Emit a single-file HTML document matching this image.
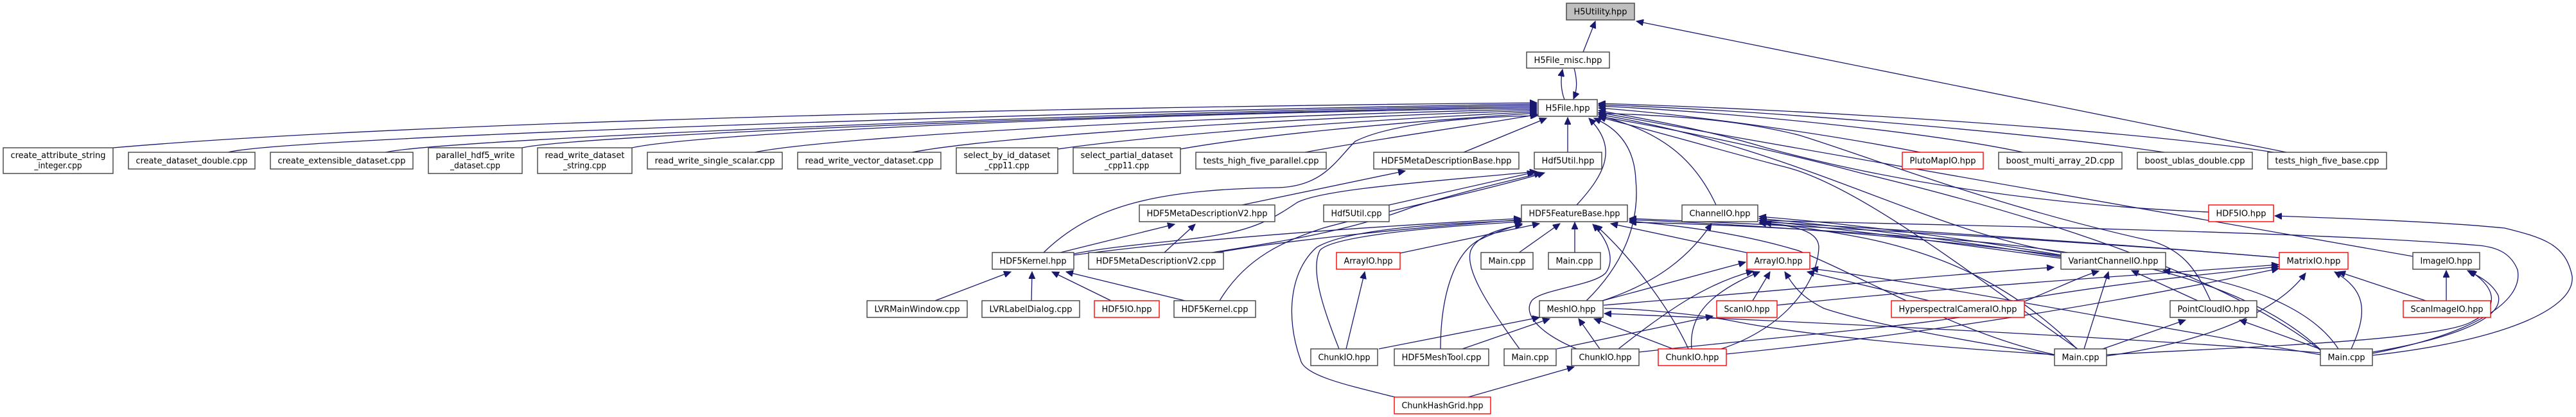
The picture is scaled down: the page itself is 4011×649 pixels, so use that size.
<!DOCTYPE html>
<html><head><meta charset="utf-8"><style>
html,body{margin:0;padding:0;background:#fff;}
svg{display:block;}
text{font-family:"DejaVu Sans Condensed","DejaVu Sans","Liberation Sans",sans-serif;font-size:13.5px;fill:#000;}
.n{fill:#fff;stroke:#404040;stroke-width:1.4;}
.r{fill:#fff;stroke:#ff0000;stroke-width:1.4;}
.g{fill:#bfbfbf;stroke:#404040;stroke-width:1.4;}
.e{fill:none;stroke:#191970;stroke-width:1.3;marker-end:url(#a);}
</style></head><body>
<svg width="4011" height="649" viewBox="0 0 4011 649" xmlns="http://www.w3.org/2000/svg">
<defs><marker id="a" markerUnits="userSpaceOnUse" markerWidth="12" markerHeight="10" refX="11" refY="5" orient="auto"><path d="M0,0 L11,5 L0,10 z" fill="#191970" stroke="#191970"/></marker></defs>
<g>
<!-- top edges -->
<path class="e" d="M2465,81 L2484,33"/>
<path class="e" d="M3560,237 L2548,33"/>
<path class="e" d="M2436,155 C2430,140 2430,122 2433,108"/>
<path class="e" d="M2451,106 C2456,125 2456,140 2450,154"/>
<!-- row3 left to H5File -->
<path class="e" d="M176,230 C700,185 1800,165 2393,160"/>
<path class="e" d="M355,237 C450,212 1800,170 2393,162"/>
<path class="e" d="M600,237 C700,215 1800,172 2393,164"/>
<path class="e" d="M813,230 C900,210 1800,175 2393,166"/>
<path class="e" d="M984,230 C1100,205 1800,176 2393,168"/>
<path class="e" d="M1175,237 C1300,212 1900,180 2393,170"/>
<path class="e" d="M1420,237 C1550,212 2000,184 2393,172"/>
<path class="e" d="M1647,232 C1800,210 2100,188 2393,174"/>
<path class="e" d="M1838,232 C1950,212 2150,192 2393,176"/>
<path class="e" d="M2032,237 C2150,215 2300,195 2394,178"/>
<path class="e" d="M2279,237 L2408,184"/>
<path class="e" d="M1625,393 C1700,320 1800,295 1990,292 C2060,290 2080,250 2110,220 C2170,190 2300,182 2394,180"/>
<path class="e" d="M2441,237 L2441,183"/>
<path class="e" d="M2455,319 C2500,270 2520,230 2474,184"/>
<path class="e" d="M2470,468 C2540,400 2552,330 2547,280 C2545,230 2520,200 2482,184"/>
<path class="e" d="M2672,319 C2640,250 2590,205 2490,180"/>
<!-- right row3 to H5File -->
<path class="e" d="M2990,237 C2850,210 2650,180 2489,168"/>
<path class="e" d="M3150,237 C3000,205 2700,175 2489,165"/>
<path class="e" d="M3370,237 C3150,205 2750,172 2489,163"/>
<path class="e" d="M3540,237 C3300,200 2800,170 2489,161"/>
<path class="e" d="M3439,330 C3200,320 2950,285 2750,230 C2650,200 2560,185 2489,172"/>
<path class="e" d="M3757,399 C3300,320 2900,250 2489,175"/>
<path class="e" d="M3209,393 C3000,360 2800,230 2489,178"/>
<path class="e" d="M3613,545 C3450,420 3150,330 2900,270 C2750,230 2600,200 2489,181"/>
<path class="e" d="M3235,543 C3100,450 2900,290 2780,260 C2700,240 2600,210 2489,182"/>
<path class="e" d="M3442,468 C3420,420 3400,390 3350,375 C3100,320 2900,240 2800,210 C2700,185 2600,180 2489,176"/>
<!-- meta description / kernel -->
<path class="e" d="M1934,319 L2188,266"/>
<path class="e" d="M1651,393 L1829,349"/>
<path class="e" d="M1813,393 L1861,349"/>
<path class="e" d="M1456,468 L1574,423"/>
<path class="e" d="M1606,468 L1607,423"/>
<path class="e" d="M1730,468 L1638,423"/>
<path class="e" d="M1845,468 L1660,423"/>
<path class="e" d="M1672,395 C1750,380 1850,375 1900,365 C1960,355 1990,335 2020,315 C2060,295 2200,285 2393,267"/>
<path class="e" d="M1899,468 C1940,400 2000,375 2060,355 C2150,330 2300,300 2405,269"/>
<path class="e" d="M2163,319 L2389,268"/>
<path class="e" d="M1887,393 C2000,375 2100,360 2200,322 C2300,292 2350,282 2400,269"/>
<path class="e" d="M1672,397 C1800,380 2000,360 2368,340"/>
<path class="e" d="M1895,393 C1980,378 2150,358 2368,342"/>
<!-- feature base incoming -->
<path class="e" d="M2180,394 L2397,348"/>
<path class="e" d="M2364,394 L2429,348"/>
<path class="e" d="M2452,394 L2452,346"/>
<path class="e" d="M2455,543 C2400,520 2370,490 2385,468 C2400,450 2480,445 2500,425 C2515,405 2505,375 2480,349"/>
<path class="e" d="M2629,543 C2600,480 2540,400 2484,350"/>
<path class="e" d="M2243,543 C2243,470 2260,400 2300,375 C2330,360 2350,355 2370,348"/>
<path class="e" d="M2366,543 C2320,480 2280,420 2290,390 C2300,365 2340,355 2370,350"/>
<path class="e" d="M2085,543 C2060,480 2040,420 2055,390 C2070,370 2200,355 2370,345"/>
<path class="e" d="M2172,618 C2100,600 2030,585 2025,560 C2000,490 2010,420 2050,385 C2100,355 2250,348 2370,343"/>
<path class="e" d="M2728,395 L2508,348"/>
<path class="e" d="M3209,398 C3000,370 2750,350 2537,342"/>
<path class="e" d="M3199,552 C3050,520 2900,430 2800,390 C2700,360 2600,350 2537,344"/>
<path class="e" d="M3549,401 C3300,380 2900,355 2537,340"/>
<path class="e" d="M3612,543 C3500,440 3300,390 3000,370 C2800,355 2650,348 2537,346"/>
<!-- meshio -->
<path class="e" d="M2147,543 L2397,494"/>
<path class="e" d="M2277,543 L2413,496"/>
<path class="e" d="M2491,543 L2458,496"/>
<path class="e" d="M2605,543 L2482,496"/>
<path class="e" d="M3613,549 C3300,525 2800,500 2498,488"/>
<path class="e" d="M2495,468 L2718,408"/>
<path class="e" d="M2495,468 C2580,440 2630,400 2665,348"/>
<path class="e" d="M2497,475 C2800,450 3000,430 3198,416"/>
<!-- arrayio / chunkio -->
<path class="e" d="M2520,543 C2600,480 2660,440 2730,422"/>
<path class="e" d="M2096,543 L2125,423"/>
<path class="e" d="M2286,618 L2451,571"/>
<path class="e" d="M2424,543 L2667,492"/>
<path class="e" d="M2634,543 C2630,500 2650,460 2740,423"/>
<path class="e" d="M2680,543 C2780,510 2830,440 2832,385 C2832,355 2780,350 2739,347"/>
<path class="e" d="M2729,468 L2756,423"/>
<path class="e" d="M2767,475 C3000,450 3300,430 3548,412"/>
<path class="e" d="M3004,468 L2814,423"/>
<path class="e" d="M3136,468 C3300,440 3450,425 3548,415"/>
<path class="e" d="M3613,552 C3300,500 3000,440 2820,418"/>
<path class="e" d="M3198,553 C3000,520 2900,500 2840,480 C2800,460 2790,440 2779,423"/>
<path class="e" d="M2552,548 C2800,520 3100,500 3150,470 C3200,450 3240,430 3268,422"/>
<path class="e" d="M2688,551 C3000,520 3300,470 3548,418"/>
<!-- channel io -->
<path class="e" d="M3209,397 C3050,370 2900,350 2739,337"/>
<path class="e" d="M3209,400 C3050,375 2900,355 2739,340"/>
<path class="e" d="M3209,402 C3050,380 2900,360 2739,343"/>
<path class="e" d="M3234,543 C3150,460 3050,400 2900,370 C2820,355 2780,350 2747,347"/>
<path class="e" d="M3245,543 L3283,423"/>
<path class="e" d="M3694,550 C3850,520 3930,470 3920,420 C3910,395 3890,385 3860,382 C3600,360 3000,350 2740,343"/>
<path class="e" d="M3549,401 C3300,380 3000,360 2740,345"/>
<!-- right part -->
<path class="e" d="M3422,468 L3319,421"/>
<path class="e" d="M3274,543 L3403,498"/>
<path class="e" d="M3280,554 C3450,530 3550,480 3590,425"/>
<path class="e" d="M3612,543 L3487,498"/>
<path class="e" d="M3641,543 C3600,480 3500,440 3368,421"/>
<path class="e" d="M3661,543 C3690,480 3680,450 3635,423"/>
<path class="e" d="M3777,468 L3641,423"/>
<path class="e" d="M3809,468 L3809,421"/>
<path class="e" d="M3694,548 C3800,530 3900,500 3890,460 C3880,440 3860,430 3842,421"/>
<path class="e" d="M3280,552 C3500,540 3800,530 3850,500 C3890,480 3890,450 3845,421"/>
<path class="e" d="M3694,553 C3900,530 4010,480 4005,430 C3995,380 3960,370 3900,355 C3800,345 3650,340 3542,336"/>
<path class="e" d="M3199,552 C3000,540 2800,520 2700,500 C2650,490 2550,480 2498,480" style="marker-end:none"/>
</g>
<!-- nodes -->
<g>
<rect class="g" x="2439" y="5" width="106" height="26"/><text x="2492" y="22.5" text-anchor="middle" textLength="83" lengthAdjust="spacingAndGlyphs">H5Utility.hpp</text>
<rect class="n" x="2377" y="81" width="129" height="25"/><text x="2441.5" y="98" text-anchor="middle" textLength="106" lengthAdjust="spacingAndGlyphs">H5File_misc.hpp</text>
<rect class="n" x="2395" y="155" width="92" height="26"/><text x="2441" y="172.5" text-anchor="middle" textLength="69" lengthAdjust="spacingAndGlyphs">H5File.hpp</text>

<rect class="n" x="5" y="230" width="171" height="40"/><text x="90.5" y="246" text-anchor="middle" textLength="148" lengthAdjust="spacingAndGlyphs">create_attribute_string</text><text x="90.5" y="262" text-anchor="middle">_integer.cpp</text>
<rect class="n" x="200" y="237" width="197" height="26"/><text x="298.5" y="254.5" text-anchor="middle" textLength="174" lengthAdjust="spacingAndGlyphs">create_dataset_double.cpp</text>
<rect class="n" x="421" y="237" width="222" height="26"/><text x="532" y="254.5" text-anchor="middle" textLength="199" lengthAdjust="spacingAndGlyphs">create_extensible_dataset.cpp</text>
<rect class="n" x="667" y="230" width="146" height="40"/><text x="740" y="246" text-anchor="middle" textLength="123" lengthAdjust="spacingAndGlyphs">parallel_hdf5_write</text><text x="740" y="262" text-anchor="middle">_dataset.cpp</text>
<rect class="n" x="837" y="230" width="147" height="40"/><text x="910.5" y="246" text-anchor="middle" textLength="124" lengthAdjust="spacingAndGlyphs">read_write_dataset</text><text x="910.5" y="262" text-anchor="middle">_string.cpp</text>
<rect class="n" x="1008" y="237" width="210" height="26"/><text x="1113" y="254.5" text-anchor="middle" textLength="187" lengthAdjust="spacingAndGlyphs">read_write_single_scalar.cpp</text>
<rect class="n" x="1242" y="237" width="223" height="26"/><text x="1353.5" y="254.5" text-anchor="middle" textLength="200" lengthAdjust="spacingAndGlyphs">read_write_vector_dataset.cpp</text>
<rect class="n" x="1489" y="230" width="158" height="40"/><text x="1568" y="246" text-anchor="middle" textLength="135" lengthAdjust="spacingAndGlyphs">select_by_id_dataset</text><text x="1568" y="262" text-anchor="middle">_cpp11.cpp</text>
<rect class="n" x="1671" y="230" width="167" height="40"/><text x="1754.5" y="246" text-anchor="middle" textLength="144" lengthAdjust="spacingAndGlyphs">select_partial_dataset</text><text x="1754.5" y="262" text-anchor="middle">_cpp11.cpp</text>
<rect class="n" x="1862" y="237" width="203" height="26"/><text x="1963.5" y="254.5" text-anchor="middle" textLength="180" lengthAdjust="spacingAndGlyphs">tests_high_five_parallel.cpp</text>
<rect class="n" x="2139" y="237" width="226" height="26"/><text x="2252" y="254.5" text-anchor="middle" textLength="203" lengthAdjust="spacingAndGlyphs">HDF5MetaDescriptionBase.hpp</text>
<rect class="n" x="2389" y="237" width="105" height="26"/><text x="2441.5" y="254.5" text-anchor="middle" textLength="82" lengthAdjust="spacingAndGlyphs">Hdf5Util.hpp</text>
<rect class="r" x="2962" y="237" width="126" height="26"/><text x="3025" y="254.5" text-anchor="middle" textLength="103" lengthAdjust="spacingAndGlyphs">PlutoMapIO.hpp</text>
<rect class="n" x="3112" y="237" width="192" height="26"/><text x="3208" y="254.5" text-anchor="middle" textLength="169" lengthAdjust="spacingAndGlyphs">boost_multi_array_2D.cpp</text>
<rect class="n" x="3328" y="237" width="179" height="26"/><text x="3417.5" y="254.5" text-anchor="middle" textLength="156" lengthAdjust="spacingAndGlyphs">boost_ublas_double.cpp</text>
<rect class="n" x="3531" y="237" width="185" height="26"/><text x="3623.5" y="254.5" text-anchor="middle" textLength="162" lengthAdjust="spacingAndGlyphs">tests_high_five_base.cpp</text>

<rect class="n" x="1774" y="319" width="211" height="26"/><text x="1879.5" y="336.5" text-anchor="middle" textLength="188" lengthAdjust="spacingAndGlyphs">HDF5MetaDescriptionV2.hpp</text>
<rect class="n" x="2061" y="319" width="102" height="26"/><text x="2112" y="336.5" text-anchor="middle" textLength="79" lengthAdjust="spacingAndGlyphs">Hdf5Util.cpp</text>
<rect class="n" x="2369" y="319" width="165" height="26"/><text x="2451.5" y="336.5" text-anchor="middle" textLength="142" lengthAdjust="spacingAndGlyphs">HDF5FeatureBase.hpp</text>
<rect class="n" x="2619" y="319" width="118" height="26"/><text x="2678" y="336.5" text-anchor="middle" textLength="95" lengthAdjust="spacingAndGlyphs">ChannelIO.hpp</text>
<rect class="r" x="3439" y="319" width="101" height="26"/><text x="3489.5" y="336.5" text-anchor="middle" textLength="78" lengthAdjust="spacingAndGlyphs">HDF5IO.hpp</text>

<rect class="n" x="1545" y="393" width="127" height="26"/><text x="1608.5" y="410.5" text-anchor="middle" textLength="104" lengthAdjust="spacingAndGlyphs">HDF5Kernel.hpp</text>
<rect class="n" x="1695" y="393" width="210" height="26"/><text x="1800" y="410.5" text-anchor="middle" textLength="187" lengthAdjust="spacingAndGlyphs">HDF5MetaDescriptionV2.cpp</text>
<rect class="r" x="2081" y="393" width="99" height="26"/><text x="2130.5" y="410.5" text-anchor="middle" textLength="76" lengthAdjust="spacingAndGlyphs">ArrayIO.hpp</text>
<rect class="n" x="2306" y="393" width="81" height="26"/><text x="2346.5" y="410.5" text-anchor="middle" textLength="58" lengthAdjust="spacingAndGlyphs">Main.cpp</text>
<rect class="n" x="2411" y="393" width="81" height="26"/><text x="2451.5" y="410.5" text-anchor="middle" textLength="58" lengthAdjust="spacingAndGlyphs">Main.cpp</text>
<rect class="r" x="2720" y="393" width="98" height="26"/><text x="2769" y="410.5" text-anchor="middle" textLength="75" lengthAdjust="spacingAndGlyphs">ArrayIO.hpp</text>
<rect class="n" x="3209" y="393" width="163" height="26"/><text x="3290.5" y="410.5" text-anchor="middle" textLength="140" lengthAdjust="spacingAndGlyphs">VariantChannelIO.hpp</text>
<rect class="r" x="3549" y="393" width="107" height="26"/><text x="3602.5" y="410.5" text-anchor="middle" textLength="84" lengthAdjust="spacingAndGlyphs">MatrixIO.hpp</text>
<rect class="n" x="3757" y="393" width="104" height="26"/><text x="3809" y="410.5" text-anchor="middle" textLength="81" lengthAdjust="spacingAndGlyphs">ImageIO.hpp</text>

<rect class="n" x="1350" y="468" width="156" height="26"/><text x="1428" y="485.5" text-anchor="middle" textLength="133" lengthAdjust="spacingAndGlyphs">LVRMainWindow.cpp</text>
<rect class="n" x="1529" y="468" width="152" height="26"/><text x="1605" y="485.5" text-anchor="middle" textLength="129" lengthAdjust="spacingAndGlyphs">LVRLabelDialog.cpp</text>
<rect class="r" x="1704" y="468" width="101" height="26"/><text x="1754.5" y="485.5" text-anchor="middle" textLength="78" lengthAdjust="spacingAndGlyphs">HDF5IO.hpp</text>
<rect class="n" x="1828" y="468" width="127" height="26"/><text x="1891.5" y="485.5" text-anchor="middle" textLength="104" lengthAdjust="spacingAndGlyphs">HDF5Kernel.cpp</text>
<rect class="n" x="2397" y="468" width="99" height="26"/><text x="2446.5" y="485.5" text-anchor="middle" textLength="76" lengthAdjust="spacingAndGlyphs">MeshIO.hpp</text>
<rect class="r" x="2673" y="468" width="94" height="26"/><text x="2720" y="485.5" text-anchor="middle" textLength="71" lengthAdjust="spacingAndGlyphs">ScanIO.hpp</text>
<rect class="r" x="2945" y="468" width="207" height="26"/><text x="3048.5" y="485.5" text-anchor="middle" textLength="184" lengthAdjust="spacingAndGlyphs">HyperspectralCameraIO.hpp</text>
<rect class="n" x="3379" y="468" width="135" height="26"/><text x="3446.5" y="485.5" text-anchor="middle" textLength="112" lengthAdjust="spacingAndGlyphs">PointCloudIO.hpp</text>
<rect class="r" x="3742" y="468" width="136" height="26"/><text x="3810" y="485.5" text-anchor="middle" textLength="113" lengthAdjust="spacingAndGlyphs">ScanImageIO.hpp</text>

<rect class="n" x="2041" y="543" width="104" height="26"/><text x="2093" y="560.5" text-anchor="middle" textLength="81" lengthAdjust="spacingAndGlyphs">ChunkIO.hpp</text>
<rect class="n" x="2171" y="543" width="147" height="26"/><text x="2244.5" y="560.5" text-anchor="middle" textLength="124" lengthAdjust="spacingAndGlyphs">HDF5MeshTool.cpp</text>
<rect class="n" x="2342" y="543" width="81" height="26"/><text x="2382.5" y="560.5" text-anchor="middle" textLength="58" lengthAdjust="spacingAndGlyphs">Main.cpp</text>
<rect class="n" x="2447" y="543" width="105" height="26"/><text x="2499.5" y="560.5" text-anchor="middle" textLength="82" lengthAdjust="spacingAndGlyphs">ChunkIO.hpp</text>
<rect class="r" x="2582" y="543" width="106" height="26"/><text x="2635" y="560.5" text-anchor="middle" textLength="83" lengthAdjust="spacingAndGlyphs">ChunkIO.hpp</text>
<rect class="n" x="3199" y="543" width="81" height="26"/><text x="3239.5" y="560.5" text-anchor="middle" textLength="58" lengthAdjust="spacingAndGlyphs">Main.cpp</text>
<rect class="n" x="3613" y="543" width="81" height="26"/><text x="3653.5" y="560.5" text-anchor="middle" textLength="58" lengthAdjust="spacingAndGlyphs">Main.cpp</text>

<rect class="r" x="2171" y="618" width="150" height="26"/><text x="2246" y="635.5" text-anchor="middle" textLength="127" lengthAdjust="spacingAndGlyphs">ChunkHashGrid.hpp</text>
</g>
</svg>
</body></html>
